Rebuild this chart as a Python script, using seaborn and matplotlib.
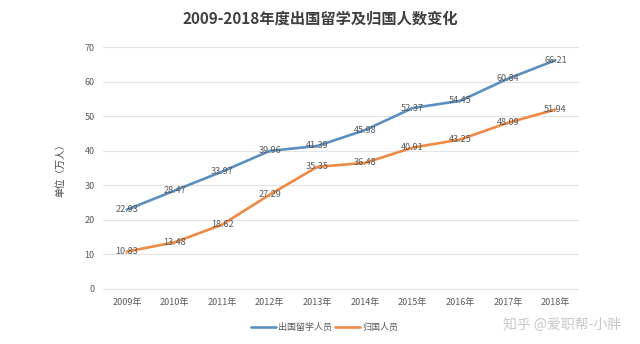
import matplotlib
matplotlib.use("Agg")
import matplotlib.pyplot as plt
import seaborn as sns
import pandas as pd

years = ["2009年", "2010年", "2011年", "2012年", "2013年", "2014年", "2015年", "2016年", "2017年", "2018年"]
abroad = [22.93, 28.47, 33.97, 39.96, 41.39, 45.98, 52.37, 54.45, 60.84, 66.21]
returned = [10.83, 13.48, 18.62, 27.29, 35.35, 36.48, 40.91, 43.25, 48.09, 51.94]
series_names = ["出国留学人员", "归国人员"]
colors = ["#5B8FC0", "#EE8A45"]

sns.set_theme(style="white")
plt.rcParams['font.family'] = ['Noto Sans CJK SC', 'DejaVu Sans']

df = pd.DataFrame({
    "year": years * 2,
    "value": abroad + returned,
    "series": [series_names[0]] * len(years) + [series_names[1]] * len(years),
})

fig = plt.figure(figsize=(6.4, 3.44), dpi=100)
ax = fig.add_axes([0.161, 0.157, 0.744, 0.709])
sns.lineplot(data=df, x="year", y="value", hue="series", hue_order=series_names,
             palette=colors, linewidth=1.9, ax=ax, sort=False, legend=True)

ax.set_xlim(-0.5, len(years) - 0.5)
ax.set_ylim(-0.3, 70.3)
ax.set_yticks(range(0, 71, 10))
ax.grid(axis="y", color="#E4E4E4", linewidth=0.8)
ax.set_axisbelow(True)
for s in ax.spines.values():
    s.set_visible(False)
ax.tick_params(axis="both", labelsize=6.5, colors="#595959", length=0, pad=6)
ax.set_xlabel("")
ax.set_ylabel("单位（万人）", fontsize=7, color="#404040", labelpad=14)

for vals in (abroad, returned):
    for i, v in enumerate(vals):
        ax.text(i, v, f"{v:.2f}", ha="center", va="center", fontsize=6.5, color="#595959")

leg = ax.legend(loc="upper center", bbox_to_anchor=(0.465, -0.1), ncol=2, frameon=False,
                fontsize=6.5, handlelength=2.8, columnspacing=0.3, handletextpad=0.2)
for t in leg.get_texts():
    t.set_color("#595959")

fig.text(0.5, 0.945, "2009-2018年度出国留学及归国人数变化", ha="center", va="center",
         fontsize=11, fontweight="bold", color="#404040")
fig.text(0.97, 0.055, "知乎 @爱职帮-小胖", ha="right", va="center", fontsize=10, color="#C8C8C8")

fig.savefig("out.png", dpi=100)
